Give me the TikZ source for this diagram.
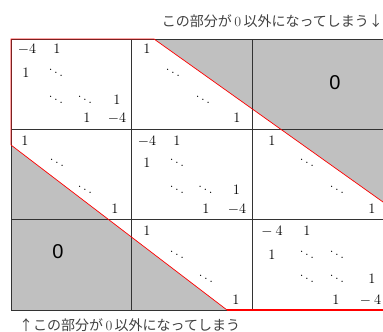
\documentclass[tikz,border=0pt]{standalone}
\usepackage{fontspec}
\newfontfamily\jpfont{Noto Sans CJK JP}
\newfontfamily\zerofont{Liberation Sans}
\definecolor{shadegray}{HTML}{C0C0C0}
\definecolor{gridc}{HTML}{333333}
\newcommand\Ent[4]{\node[ent] (#1) at (#2,#3) {$#4$};}
\tikzset{
  ent/.style={anchor=base, inner sep=0pt, font=\fontsize{13.5}{16}\selectfont},
  gridline/.style={draw=gridc, line width=0.8pt},
  redline/.style={draw=red, line width=0.7pt},
  bigzero/.style={inner sep=0pt, font=\zerofont\fontsize{20}{24}\selectfont},
  jptext/.style={inner sep=0pt, font=\jpfont\fontsize{14}{17}\selectfont, text=black!75}
}
\begin{document}
\begin{tikzpicture}[x=1pt,y=-1pt]
\useasboundingbox (0,0) rectangle (383,332);
\clip (0,0) rectangle (383,332);
% shaded regions
\fill[shadegray] (154,39) -- (383,39) -- (383,202) -- cycle;
\fill[shadegray] (11,145) -- (227,310) -- (11,310) -- cycle;
% grid
\draw[gridline] (11,39) -- (383,39);
\draw[gridline] (11,129.5) -- (383,129.5);
\draw[gridline] (11,219.5) -- (383,219.5);
\draw[gridline] (11,310) -- (383,310);
\draw[gridline] (11,39) -- (11,310);
\draw[gridline] (131.5,39) -- (131.5,310);
\draw[gridline] (252,39) -- (252,310);
% red outline
\draw[redline] (11,145) -- (11,39) -- (154,39) -- (383,202);
\draw[redline] (11,145) -- (227,310);
\draw[draw=red, line width=1.2pt] (227,310) -- (383,310);
% block (0,0)
\Ent{a1}{27}{53.5}{-4}
\Ent{a2}{57}{53.5}{1}
\Ent{a3}{26}{77.5}{1}
\Ent{a4}{56}{77.5}{\ddots}
\Ent{a5}{56}{104}{\ddots}
\Ent{a6}{85}{104}{\ddots}
\Ent{a7}{117}{104}{1}
\Ent{a8}{87}{122.5}{1}
\Ent{a9}{117}{122.5}{-4}
% block (0,1)
\Ent{b1}{147}{53.5}{1}
\Ent{b2}{173}{77.5}{\ddots}
\Ent{b3}{203}{104}{\ddots}
\Ent{b4}{237}{122.5}{1}
% block (0,2)
\node[bigzero] (z1) at (335,83) {0};
% block (1,0)
\Ent{c1}{25}{145}{1}
\Ent{c2}{57}{167.5}{\ddots}
\Ent{c3}{85}{194}{\ddots}
\Ent{c4}{115}{213.5}{1}
% block (1,1)
\Ent{d1}{147}{145}{-4}
\Ent{d2}{177}{145}{1}
\Ent{d3}{147}{167.5}{1}
\Ent{d4}{177}{167.5}{\ddots}
\Ent{d5}{177}{194}{\ddots}
\Ent{d6}{205.5}{194}{\ddots}
\Ent{d7}{236.5}{194}{1}
\Ent{d8}{206}{213.5}{1}
\Ent{d9}{237}{213.5}{-4}
% block (1,2)
\Ent{e1}{272}{145}{1}
\Ent{e2}{307}{167.5}{\ddots}
\Ent{e3}{337}{194}{\ddots}
\Ent{e4}{372}{213.5}{1}
% block (2,0)
\node[bigzero] (z2) at (58,252) {0};
% block (2,1)
\Ent{f1}{147}{235.5}{1}
\Ent{f2}{177}{259.5}{\ddots}
\Ent{f3}{206}{283}{\ddots}
\Ent{f4}{236}{304.5}{1}
% block (2,2)
\Ent{g1}{272}{235.5}{-\:4}
\Ent{g2}{307}{235.5}{1}
\Ent{g3}{272}{259.5}{1}
\Ent{g4}{307}{259.5}{\ddots}
\Ent{g5}{337}{259.5}{\ddots}
\Ent{g6}{307}{283}{\ddots}
\Ent{g7}{337}{283}{\ddots}
\Ent{g8}{372}{283}{1}
\Ent{g9}{336}{304.5}{1}
\Ent{g10}{370.5}{304.5}{-\:4}
% captions
\node[jptext, anchor=east] (t1) at (383,21) {この部分が\,{\rmfamily 0}\,以外になってしまう↓};
\node[jptext, anchor=west] (t2) at (19,325) {↑この部分が\,{\rmfamily 0}\,以外になってしまう};
\end{tikzpicture}
\end{document}
